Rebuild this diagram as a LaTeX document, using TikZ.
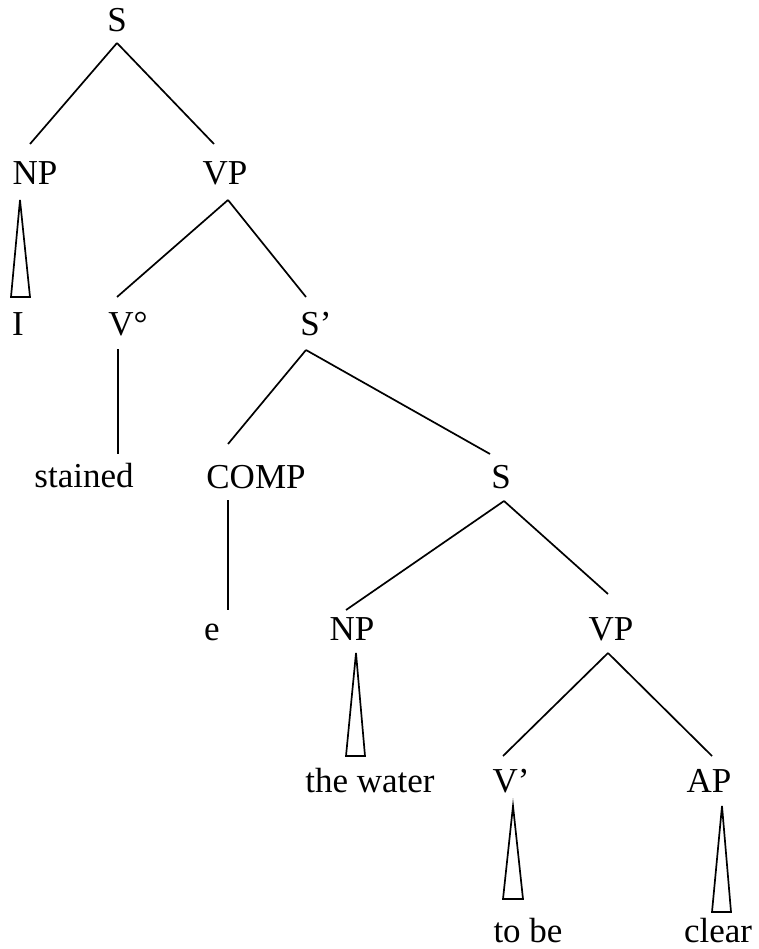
\documentclass[tikz,border=0pt]{standalone}
\usepackage{fontspec}
\setmainfont{Liberation Serif}
\usepackage{tikz}

\begin{document}
\begin{tikzpicture}[x=1pt, y=-1pt, line width=1.7pt,
	cat/.style={font=\fontsize{35}{42}\selectfont, inner sep=0pt, outer sep=0pt,
		text height=23pt, text depth=0pt, anchor=base}]
	
	\useasboundingbox (0,0) rectangle (758,949);
	
	\node[cat] (s0) at (117,32) {S};
	\node[cat] (np1) at (35,185) {NP};
	\node[cat] (vp1) at (225,185) {VP};
	\node[cat] (i) at (18,335) {I};
	\node[cat] (vdeg) at (128,335) {V°};
	\node[cat] (sbar) at (316,335) {S’};
	\node[cat] (stained) at (84,487) {stained};
	\node[cat] (comp) at (256,488) {COMP};
	\node[cat] (s1) at (501,488) {S};
	\node[cat] (e) at (212,640) {e};
	\node[cat] (np2) at (352,640) {NP};
	\node[cat] (vp2) at (611,640) {VP};
	\node[cat] (water) at (370,792) {the water};
	\node[cat] (vbar) at (511,792) {V’};
	\node[cat] (ap) at (709,792) {AP};
	\node[cat] (tobe) at (528,942) {to be};
	\node[cat] (clear) at (718,942) {clear};
	
	\path
	([yshift=-11]s0.south) edge ([xshift=-5,yshift=18]np1.north)
	([yshift=-11]s0.south) edge ([xshift=-11,yshift=18]vp1.north)
	([xshift=3,yshift=-15]vp1.south) edge ([xshift=-11,yshift=15]vdeg.north)
	([xshift=3,yshift=-15]vp1.south) edge ([xshift=-10,yshift=15]sbar.north)
	([xshift=-10,yshift=-14]vdeg.south) edge ([xshift=34,yshift=10]stained.north)
	([xshift=-10,yshift=-15]sbar.south) edge ([xshift=-28,yshift=21]comp.north)
	([xshift=-10,yshift=-15]sbar.south) edge ([xshift=-11,yshift=11]s1.north)
	([xshift=-28,yshift=-12]comp.south) edge ([xshift=16,yshift=7]e.north)
	([xshift=3,yshift=-13]s1.south) edge ([xshift=-6,yshift=7]np2.north)
	([xshift=3,yshift=-13]s1.south) edge ([xshift=-3,yshift=23]vp2.north)
	([xshift=-3,yshift=-13]vp2.south) edge ([xshift=-8,yshift=13]vbar.north)
	([xshift=-3,yshift=-13]vp2.south) edge ([xshift=3,yshift=13]ap.north);
	
	% roofs
	\draw ([xshift=-15,yshift=-15]np1.south) -- ([xshift=-7,yshift=15]i.north)
	-- ([xshift=12,yshift=15]i.north) -- cycle;
	\draw ([xshift=4,yshift=-13]np2.south) -- ([xshift=-24,yshift=13]water.north)
	-- ([xshift=-5,yshift=13]water.north) -- cycle;
	\draw ([xshift=2,yshift=-14]vbar.south) -- ([xshift=-25,yshift=20]tobe.north)
	-- ([xshift=-5,yshift=20]tobe.north) -- cycle;
	\draw ([xshift=13,yshift=-14]ap.south) -- ([xshift=-6,yshift=7]clear.north)
	-- ([xshift=13,yshift=7]clear.north) -- cycle;
	
\end{tikzpicture}
\end{document}
